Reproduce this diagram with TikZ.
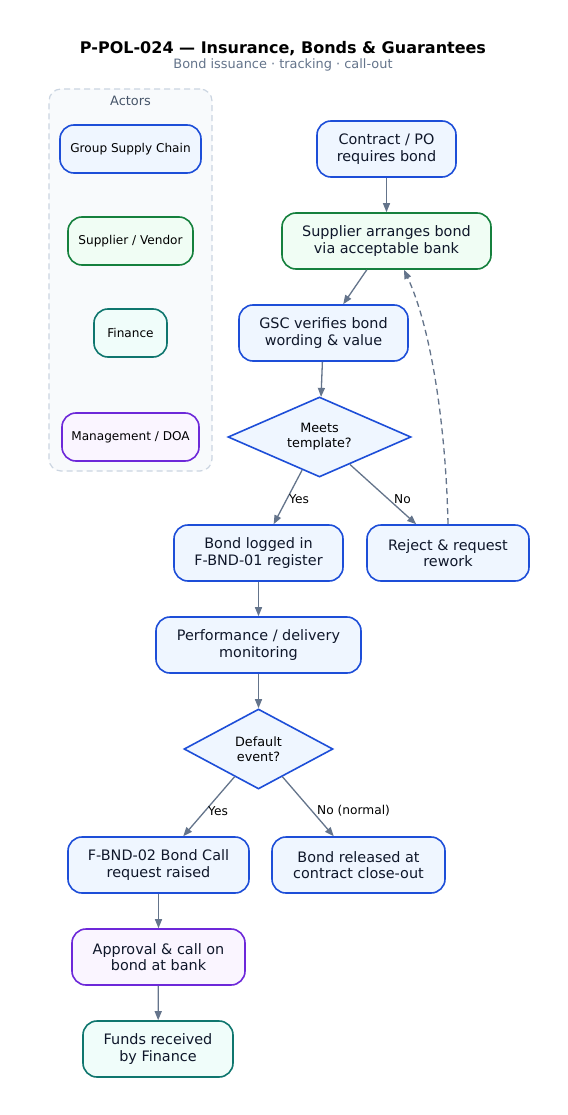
\documentclass[tikz,border=0pt]{standalone}
\usepackage{fontspec}
\setmainfont{DejaVu Sans}
\usetikzlibrary{arrows.meta,shapes.geometric,calc}
\definecolor{bstroke}{HTML}{1D4ED8}
\definecolor{bfill}{HTML}{EFF6FF}
\definecolor{gstroke}{HTML}{15803D}
\definecolor{gfill}{HTML}{F0FDF4}
\definecolor{tstroke}{HTML}{0F766E}
\definecolor{tfill}{HTML}{F0FDFA}
\definecolor{pstroke}{HTML}{6D28D9}
\definecolor{pfill}{HTML}{FAF5FF}
\definecolor{edgec}{HTML}{64748B}
\definecolor{txt}{HTML}{0F172A}
\definecolor{subc}{HTML}{64748B}
\definecolor{actl}{HTML}{475569}
\definecolor{panelfill}{HTML}{F8FAFC}
\definecolor{panelstroke}{HTML}{CBD5E1}
\begin{document}
\begin{tikzpicture}[x=1pt,y=-1pt,
  box/.style={rectangle, rounded corners=14pt, line width=1.6pt, inner sep=0pt,
    minimum height=56pt, align=center, text=txt, font=\fontsize{14.4}{16.5}\selectfont},
  bluebox/.style={box, draw=bstroke, fill=bfill},
  greenbox/.style={box, draw=gstroke, fill=gfill},
  tealbox/.style={box, draw=tstroke, fill=tfill},
  purplebox/.style={box, draw=pstroke, fill=pfill},
  actor/.style={rectangle, rounded corners=14pt, line width=1.6pt, minimum height=48pt,
    inner sep=0pt, font=\fontsize{12.1}{14}\selectfont, text=black},
  dec/.style={diamond, draw=bstroke, fill=bfill, line width=1.6pt, inner sep=0pt,
    minimum height=80pt},
  dectext/.style={align=center, text=black, font=\fontsize{12.8}{15}\selectfont, inner sep=0pt},
  flow/.style={draw=edgec, line width=1.3pt, -{Triangle[length=9pt,width=7pt]}},
  elabel/.style={font=\fontsize{12.2}{14}\selectfont, text=black, inner sep=0pt}
]
\useasboundingbox[fill=white] (0,0) rectangle (567,1115);

% title
\node (title) at (283,49) {\fontsize{16}{18}\selectfont\bfseries P-POL-024 — Insurance, Bonds \& Guarantees};
\node[text=subc] (subtitle) at (283,64.5) {\fontsize{12.9}{14}\selectfont Bond issuance · tracking · call-out};

% actors panel
\node[draw=panelstroke, fill=panelfill, line width=1.2pt, dash pattern=on 6pt off 4pt,
  rounded corners=12pt, minimum width=163pt, minimum height=382pt, inner sep=0pt] (panel) at (130.5,280) {};
\node[text=actl, font=\fontsize{12.9}{14}\selectfont] (actors) at (130.5,100.5) {Actors};
\node[actor, draw=bstroke, fill=bfill, minimum width=141pt] (a1) at (130.5,149) {Group Supply Chain};
\node[actor, draw=gstroke, fill=gfill, minimum width=125pt] (a2) at (130.5,241) {Supplier / Vendor};
\node[actor, draw=tstroke, fill=tfill, minimum width=73pt] (a3) at (130.5,333) {Finance};
\node[actor, draw=pstroke, fill=pfill, minimum width=137pt] (a4) at (130.5,437) {Management / DOA};

% flow nodes
\node[bluebox, minimum width=139pt] (contract) at (386.5,149) {Contract / PO\\requires bond};
\node[greenbox, minimum width=209pt] (supplier) at (386.5,241) {Supplier arranges bond\\via acceptable bank};
\node[bluebox, minimum width=169pt] (gsc) at (323.5,333) {GSC verifies bond\\wording \& value};
\node[dec, minimum width=183pt, label={[dectext]center:Meets\\template?}] (meets) at (319.5,437) {};
\node[bluebox, minimum width=169pt] (logged) at (258.5,553) {Bond logged in\\F-BND-01 register};
\node[bluebox, minimum width=162pt] (reject) at (448,553) {Reject \& request\\rework};
\node[bluebox, minimum width=205pt] (perf) at (258.5,645) {Performance / delivery\\monitoring};
\node[dec, minimum width=149pt, label={[dectext]center:Default\\event?}] (default) at (258.5,749) {};
\node[bluebox, minimum width=181pt] (call) at (158.5,865) {F-BND-02 Bond Call\\request raised};
\node[bluebox, minimum width=173pt] (released) at (358.5,865) {Bond released at\\contract close-out};
\node[purplebox, minimum width=173pt] (approval) at (158.5,957) {Approval \& call on\\bond at bank};
\node[tealbox, minimum width=150pt] (funds) at (158,1049) {Funds received\\by Finance};

% connectors
\draw[flow] (contract) -- (supplier);
\draw[flow] (supplier) -- (gsc);
\draw[flow] (gsc) -- (meets);
\draw[flow] (meets) -- (logged);
\draw[flow] (meets) -- (reject);
\draw[flow, dash pattern=on 6pt off 4pt] (reject.north) .. controls (446,430) and (432,330) .. ($(supplier.south)+(17.5,0)$);
\draw[flow] (logged) -- (perf);
\draw[flow] (perf) -- (default);
\draw[flow] (default) -- (call);
\draw[flow] (default) -- (released);
\draw[flow] (call) -- (approval);
\draw[flow] (approval) -- (funds);

% edge labels
\node[elabel, anchor=west] (lyes1) at (289,499) {Yes};
\node[elabel, anchor=west] (lno1) at (394,499) {No};
\node[elabel, anchor=west] (lyes2) at (208,811) {Yes};
\node[elabel, anchor=west] (lno2) at (317,811) {No (normal)};
\end{tikzpicture}
\end{document}
